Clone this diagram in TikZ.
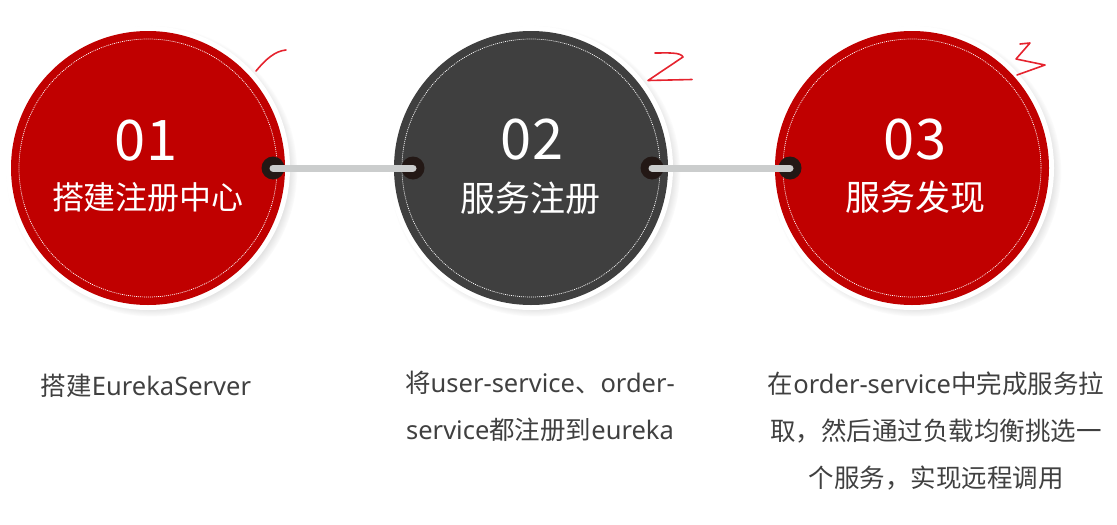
\documentclass[tikz,border=0pt]{standalone}
\usepackage{fontspec}
\setmainfont{Noto Sans CJK SC}
\newfontfamily\lat{Noto Sans}
\usetikzlibrary{shadows}
\definecolor{cred}{HTML}{C00000}
\definecolor{cgray}{HTML}{3F3F3F}
\definecolor{cdot}{HTML}{231815}
\definecolor{cbar}{HTML}{CBCDCD}
\definecolor{ctext}{HTML}{404040}
\definecolor{cmark}{HTML}{E5232E}
\tikzset{
  ring/.style={circle, fill=white, minimum size=284pt, inner sep=0pt,
    circular drop shadow={shadow xshift=3.5pt, shadow yshift=-3pt, shadow scale=1.025, opacity=0.55}},
  disc/.style={circle, fill=#1, minimum size=274pt, inner sep=0pt},
  dotring/.style={circle, draw=white, line width=0.7pt, dash pattern=on 1pt off 1pt, minimum size=258pt, inner sep=0pt},
  numtext/.style={text=white, font=\fontsize{56}{60}\selectfont},
  titletext/.style={text=white, font=\fontsize{#1}{#1}\selectfont},
  desc/.style={text=ctext, align=center, font=\fontsize{25.5}{47}\selectfont},
  knob/.style={circle, fill=cdot, minimum size=23pt, inner sep=0pt},
  bar/.style={draw=cbar, line width=7pt, line cap=round},
  handmark/.style={draw=cmark, line width=1.6pt, line cap=round, line join=round},
}
\begin{document}
\begin{tikzpicture}[x=1pt, y=-1pt]
\useasboundingbox (0,0) rectangle (1117,525);
% circles
\node[ring] (r1) at (148,168) {};
\node[ring] (r2) at (531,168) {};
\node[ring] (r3) at (912,168) {};
\node[disc=cred] (c1) at (148,168) {};
\node[disc=cgray] (c2) at (531,168) {};
\node[disc=cred] (c3) at (912,168) {};
\node[dotring] (d1) at (148,168) {};
\node[dotring] (d2) at (531,168) {};
\node[dotring] (d3) at (912,168) {};
% titles
\node[numtext] (n1) at (146,141) {01};
\node[titletext=32] (t1) at (148,197) {搭建注册中心};
\node[numtext] (n2) at (532,140) {02};
\node[titletext=35] (t2) at (530,198) {服务注册};
\node[numtext] (n3) at (915,140) {03};
\node[titletext=35] (t3) at (915,197) {服务发现};
% connectors
\node[knob] (k1) at (273,168) {};
\node[knob] (k2) at (413,168) {};
\node[knob] (k3) at (652,168) {};
\node[knob] (k4) at (790,168) {};
\draw[bar] (k1.center) -- (k2.center);
\draw[bar] (k3.center) -- (k4.center);
% descriptions
\node[desc] (e1) at (146,386) {搭建{\lat EurekaServer}};
\node[desc, anchor=north] (e2) at (540,368) {将{\lat user-service}、{\lat order-}\\{\lat service}都注册到{\lat eureka}};
\node[desc, anchor=north] (e3) at (936,368) {在{\lat order-service}中完成服务拉\\取，然后通过负载均衡挑选一\\个服务，实现远程调用};
% handwritten marks
\coordinate (m1a) at (256,71);
\coordinate (m1b) at (286,50);
\draw[handmark] (m1a) .. controls (266,59) and (275,51) .. (m1b);
\coordinate (m2a) at (655,53);
\coordinate (m2b) at (692,79.5);
\draw[handmark] (m2a) .. controls (667,53) and (681,52) .. (683,57) -- (648,80.5) -- (m2b);
\coordinate (m3a) at (1020,44);
\coordinate (m3b) at (1017,75);
\draw[handmark] (m3a) -- (1030,43) -- (1016,59) -- (1045,65) -- (m3b);
\end{tikzpicture}
\end{document}
